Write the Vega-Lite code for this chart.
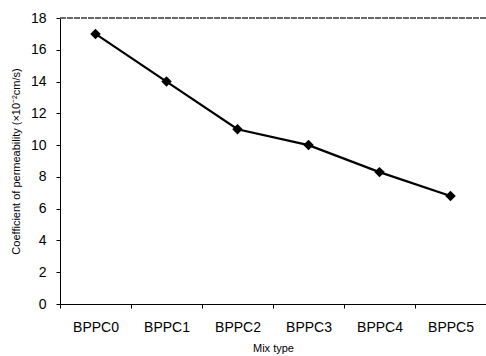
{
  "$schema": "https://vega.github.io/schema/vega-lite/v6.json",
  "width": 426,
  "height": 286,
  "autosize": {"type": "none"},
  "padding": {"left": 60, "top": 18, "right": 0, "bottom": 52},
  "background": "white",
  "config": {
    "view": {"stroke": null},
    "font": "Liberation Sans",
    "axis": {"grid": false, "domainColor": "#000", "tickColor": "#000", "labelColor": "#000", "titleColor": "#000", "labelFont": "Liberation Sans", "titleFont": "Liberation Sans", "titleFontWeight": "normal"}
  },
  "data": {"values": [
    {"mix": "BPPC0", "k": 17.0},
    {"mix": "BPPC1", "k": 14.0},
    {"mix": "BPPC2", "k": 11.0},
    {"mix": "BPPC3", "k": 10.0},
    {"mix": "BPPC4", "k": 8.3},
    {"mix": "BPPC5", "k": 6.8}
  ]},
  "encoding": {
    "y": {
      "field": "k", "type": "quantitative",
      "scale": {"domain": [0, 18], "nice": false},
      "axis": {"title": "Coefficient of permeability (×10⁻²cm/s)", "values": [0, 2, 4, 6, 8, 10, 12, 14, 16, 18], "labelOverlap": false, "labelBound": false, "labelFontSize": 14, "titleFontSize": 11, "tickSize": 4, "labelPadding": 10, "titlePadding": 9}
    }
  },
  "layer": [
    {
      "mark": {"type": "line", "color": "#000", "strokeWidth": 2.2, "point": {"shape": "diamond", "size": 110, "filled": true, "color": "#000"}},
      "encoding": {
        "x": {
          "field": "mix", "type": "nominal", "sort": null,
          "scale": {"paddingInner": 0, "paddingOuter": 0},
          "axis": {"title": "Mix type", "labelAngle": 0, "labelFontSize": 14, "titleFontSize": 11, "labelPadding": 12, "titlePadding": 8, "tickSize": 4, "tickBand": "extent", "domainWidth": 1}
        }
      }
    },
    {
      "mark": {"type": "rule", "color": "#666", "strokeWidth": 1, "strokeDash": [6, 1]},
      "encoding": {"y": {"datum": 18, "type": "quantitative", "axis": {"title": "Coefficient of permeability (×10⁻²cm/s)", "values": [0, 2, 4, 6, 8, 10, 12, 14, 16, 18], "labelOverlap": false, "labelBound": false, "labelFontSize": 14, "titleFontSize": 11, "tickSize": 4, "labelPadding": 10, "titlePadding": 9}}}
    }
  ]
}
